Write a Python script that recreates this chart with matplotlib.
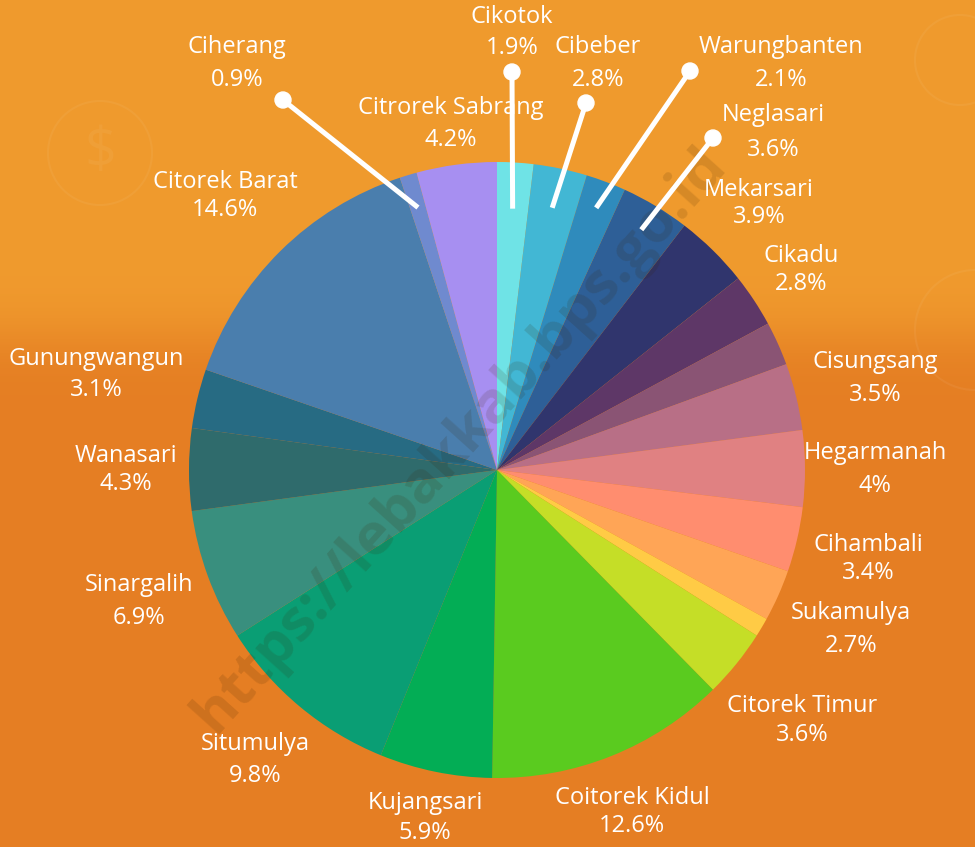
import numpy as np
import matplotlib
matplotlib.use("Agg")
import matplotlib.pyplot as plt
from matplotlib.patches import Circle

# slices clockwise from 12 o'clock; two slices in the picture carry no label
names = ["Cikotok", "Cibeber", "Warungbanten", "Neglasari", "Mekarsari", "Cikadu", "",
         "Cisungsang", "Hegarmanah", "Cihambali", "Sukamulya", "", "Citorek Timur",
         "Coitorek Kidul", "Kujangsari", "Situmulya", "Sinargalih", "Wanasari",
         "Gunungwangun", "Citorek Barat", "Ciherang", "Citrorek Sabrang"]
shares = [1.9, 2.8, 2.1, 3.6, 3.9, 2.8, 2.3, 3.5, 4.0, 3.4, 2.7, 1.0, 3.6,
          12.6, 5.9, 9.8, 6.9, 4.3, 3.1, 14.6, 0.9, 4.2]
pct_text = ["1.9%", "2.8%", "2.1%", "3.6%", "3.9%", "2.8%", "", "3.5%", "4%", "3.4%",
            "2.7%", "", "3.6%", "12.6%", "5.9%", "9.8%", "6.9%", "4.3%", "3.1%",
            "14.6%", "0.9%", "4.2%"]
colors = ["#6FE3E6", "#42B7D4", "#2F8BBC", "#2E5F97", "#30356D", "#5E3767", "#8A5474",
          "#B86F86", "#E08182", "#FF8D6F", "#FFA556", "#FFCB45", "#C5DE27",
          "#5ACB1F", "#03AD55", "#0A9E74", "#398F7E", "#2F6B6C", "#276B83",
          "#4A7EAD", "#6F8ACF", "#A78FF1"]

# layout (pixel coords from top-left): label x, name y, value y
label_pos = {
    "Cikotok": (512, 17, 48), "Cibeber": (598, 47, 80), "Warungbanten": (781, 47, 80),
    "Neglasari": (773, 115, 150), "Mekarsari": (759, 190, 217), "Cikadu": (801, 256, 284),
    "Cisungsang": (875, 362, 395), "Hegarmanah": (875, 453, 486),
    "Cihambali": (868, 545, 573), "Sukamulya": (851, 613, 646),
    "Citorek Timur": (802, 706, 735), "Coitorek Kidul": (632, 798, 826),
    "Kujangsari": (425, 803, 833), "Situmulya": (255, 744, 776),
    "Sinargalih": (139, 585, 618), "Wanasari": (126, 456, 484),
    "Gunungwangun": (96, 359, 390), "Citorek Barat": (225, 182, 210),
    "Ciherang": (237, 47, 80), "Citrorek Sabrang": (451, 108, 140),
}
# leader lines: inner radius fraction, dot position
leaders = {
    "Cikotok": (0.85, (512, 72)), "Cibeber": (0.87, (586, 103)),
    "Warungbanten": (0.91, (690, 71)), "Neglasari": (0.91, (713, 138)),
    "Ciherang": (0.89, (283, 100)),
}

W, H = 975, 847
cx, cy, R = 497, 470, 308
font = "Open Sans"

fig = plt.figure(figsize=(W / 100, H / 100), dpi=100)
ax = fig.add_axes([0, 0, 1, 1])

# orange background, lighter on top
yy = np.linspace(0, 1, 300)[:, None]
top = np.array([240, 155, 46]) / 255
low = np.array([229, 126, 35]) / 255
t = 1 / (1 + np.exp(-(yy * H - 335) / 18))
grad = top * (1 - t[..., None]) + low * t[..., None]
grad = np.repeat(grad, 2, axis=1)
ax.imshow(grad, extent=[0, W, 0, H], origin="upper", aspect="auto", zorder=0)

wedges, _ = ax.pie(shares, colors=colors, startangle=90, counterclock=False,
                   center=(cx, H - cy), radius=R, wedgeprops=dict(linewidth=0))
for w in wedges:
    w.set_zorder(2)

ax.set_xlim(0, W)
ax.set_ylim(0, H)
ax.set_aspect("auto")
ax.axis("off")

# faint background icons
for (x, y, r) in [(100, 153, 52), (960, 60, 45), (975, 330, 60)]:
    ax.add_patch(Circle((x, H - y), r, fill=False, ec="white", lw=1.5, alpha=0.05, zorder=1))
ax.text(100, H - 153, "$", ha="center", va="center", fontsize=40, color="white",
        alpha=0.05, family=font, zorder=1)

# watermark
ax.text(460, H - 440, "https://lebakkab.bps.go.id", rotation=48, ha="center", va="center",
        fontsize=42, fontweight="bold", color="#3a2000", alpha=0.14, family=font, zorder=3)

total = sum(shares)
cum = 0.0
for name, s, pct in zip(names, shares, pct_text):
    mid = (cum + s / 2) / total * 360
    cum += s
    if not name:
        continue
    if name in leaders:
        frac, (dx, dy) = leaders[name]
        ix = cx + frac * R * np.sin(np.radians(mid))
        iy = cy - frac * R * np.cos(np.radians(mid))
        ax.plot([ix, dx], [H - iy, H - dy], color="white", lw=3.6, solid_capstyle="butt", zorder=4)
        ax.add_patch(Circle((dx, H - dy), 8, color="white", zorder=5))
    lx, ny, vy = label_pos[name]
    ax.text(lx, H - ny, name, ha="center", va="center", fontsize=17, color="white",
            family=font, zorder=6)
    ax.text(lx, H - vy, pct, ha="center", va="center", fontsize=17, color="white",
            family=font, zorder=6)

fig.savefig("out.png", dpi=100)
